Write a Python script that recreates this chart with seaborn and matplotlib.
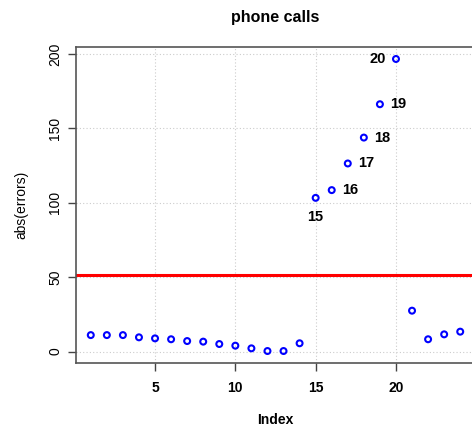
import matplotlib
matplotlib.use("Agg")
import matplotlib.pyplot as plt
import seaborn as sns
import numpy as np
import pandas as pd

# absolute residuals per observation
index = list(range(1, 25))
abs_errors = [11.1, 11.1, 11.1, 9.6, 8.9, 8.3, 7.1, 6.7, 5.1, 4.0, 2.2, 0.4,
              0.4, 5.6, 103.3, 108.5, 126.4, 143.8, 166.2, 196.6, 27.5, 8.3,
              11.6, 13.4]
threshold = 51.4
labelled = [15, 16, 17, 18, 19, 20]
x_ticks = [5, 10, 15, 20]
y_ticks = [0, 50, 100, 150, 200]

sns.set_style("white")
plt.rcParams["font.family"] = ["Liberation Sans", "DejaVu Sans"]
plt.rcParams["text.color"] = "black"
plt.rcParams["axes.labelcolor"] = "black"
plt.rcParams["xtick.color"] = "black"
plt.rcParams["ytick.color"] = "black"

df = pd.DataFrame({"Index": index, "abs(errors)": abs_errors})

fig = plt.figure(figsize=(4.72, 4.28), dpi=100)
ax = fig.add_axes([76 / 472, 1 - 362.7 / 428, (475 - 76) / 472, (362.7 - 47.3) / 428])

sns.scatterplot(data=df, x="Index", y="abs(errors)", ax=ax, marker="o", s=18,
                color="blue", linewidth=1.5, zorder=3)
coll = ax.collections[0]
coll.set_facecolor("none")
coll.set_edgecolor("blue")

ax.axhline(threshold, color="#ff0000", lw=2.2, zorder=2)

# label the large residuals
for i in labelled:
    v = abs_errors[i - 1]
    if i == 15:
        off = (0, -14)
    elif i == 20:
        off = (-13, 0)
    else:
        off = (13, 0)
    ax.annotate(str(i), (i, v), xytext=off, textcoords="offset points",
                ha="center", va="center", fontsize=10.5, fontweight="bold")

xr = (max(index) - min(index)) * 0.04
yr = (max(abs_errors) - min(abs_errors)) * 0.04
ax.set_xlim(min(index) - xr, max(index) + xr)
ax.set_ylim(min(abs_errors) - yr, max(abs_errors) + yr)

ax.set_xticks(x_ticks)
ax.set_yticks(y_ticks)
ax.set_xticklabels([str(t) for t in x_ticks], fontweight="bold", fontsize=10)
ax.set_yticklabels([str(t) for t in y_ticks], rotation=90, va="center", fontsize=10)
ax.tick_params(axis="both", direction="out", length=6, width=1, color="#444444",
               bottom=True, left=True)
ax.tick_params(axis="x", pad=7)
ax.tick_params(axis="y", pad=4)

ax.grid(True, linestyle=(0, (1, 2)), color="#cccccc", lw=0.8)
ax.set_axisbelow(True)
for s in ax.spines.values():
    s.set_color("#555555")
    s.set_linewidth(1.2)

ax.set_xlabel("Index", fontweight="bold", fontsize=10, labelpad=13)
ax.set_ylabel("abs(errors)", fontsize=10, labelpad=14)
ax.set_title("phone calls", fontweight="bold", fontsize=11.5, pad=18)

fig.savefig("out.png", dpi=100)
